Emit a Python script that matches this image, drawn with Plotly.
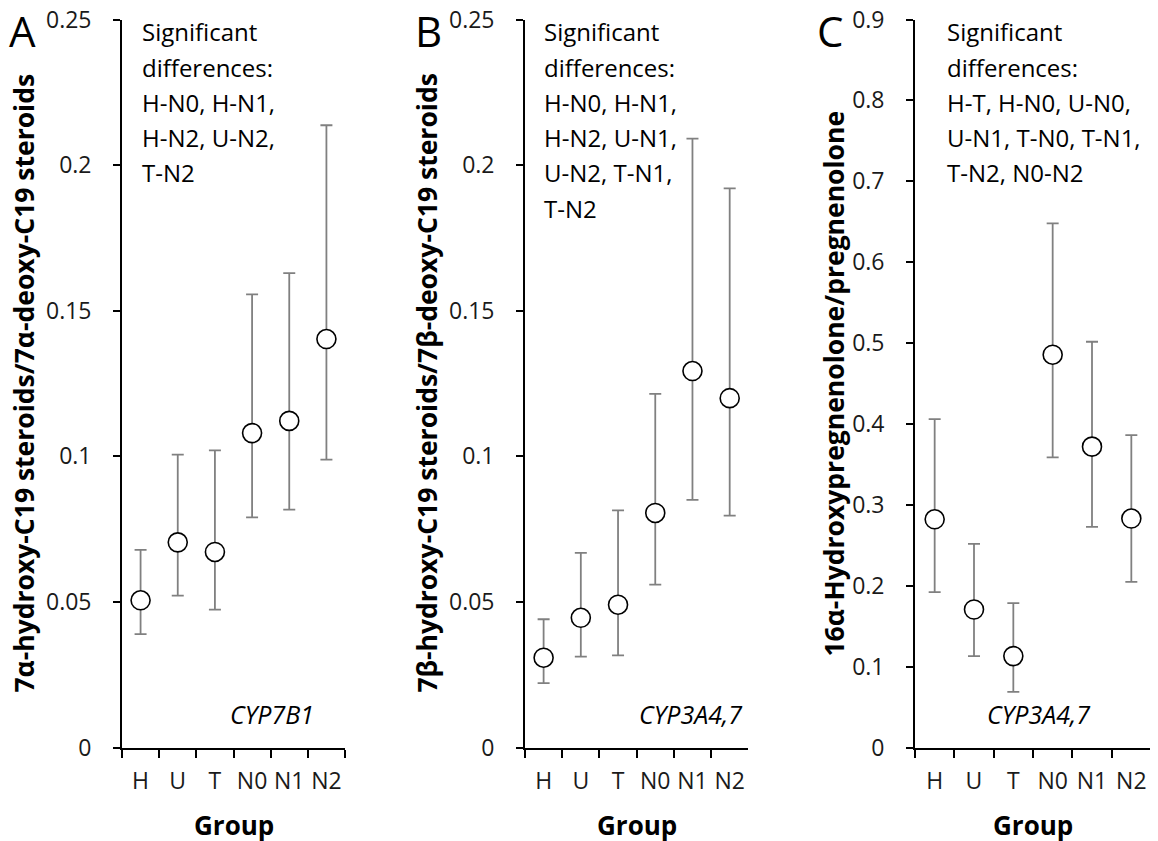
import plotly.graph_objects as go

groups = ["H", "U", "T", "N0", "N1", "N2"]

# Panel A: 7α-hydroxy / 7α-deoxy C19 steroids (CYP7B1)
a_mean = [0.0506, 0.0705, 0.0672, 0.1080, 0.1122, 0.1403]
a_upper = [0.0679, 0.1006, 0.1021, 0.1556, 0.1629, 0.2137]
a_lower = [0.0390, 0.0522, 0.0474, 0.0791, 0.0817, 0.0989]

# Panel B: 7β-hydroxy / 7β-deoxy C19 steroids (CYP3A4,7)
b_mean = [0.0309, 0.0446, 0.0491, 0.0806, 0.1293, 0.1200]
b_upper = [0.0441, 0.0669, 0.0815, 0.1215, 0.2091, 0.1920]
b_lower = [0.0222, 0.0313, 0.0317, 0.0560, 0.0851, 0.0797]

# Panel C: 16α-hydroxypregnenolone / pregnenolone (CYP3A4,7)
c_mean = [0.2823, 0.1708, 0.1132, 0.4857, 0.3721, 0.2832]
c_upper = [0.4062, 0.2519, 0.1786, 0.6481, 0.5017, 0.3864]
c_lower = [0.1922, 0.1132, 0.0691, 0.3589, 0.2728, 0.2049]

ab_ticks = [0, 0.05, 0.1, 0.15, 0.2, 0.25]
ab_ticktext = ["0", "0.05", "0.1", "0.15", "0.2", "0.25"]
c_ticks = [0, 0.1, 0.2, 0.3, 0.4, 0.5, 0.6, 0.7, 0.8, 0.9]
c_ticktext = ["0", "0.1", "0.2", "0.3", "0.4", "0.5", "0.6", "0.7", "0.8", "0.9"]

y_titles = ["7α-hydroxy-C19 steroids/7α-deoxy-C19 steroids",
            "7β-hydroxy-C19 steroids/7β-deoxy-C19 steroids",
            "16α-Hydroxypregnenolone/pregnenolone"]
panel_letters = ["A", "B", "C"]
enzymes = ["CYP7B1", "CYP3A4,7", "CYP3A4,7"]
sig_lines = [
    ["Significant", "differences:", "H-N0, H-N1,", "H-N2, U-N2,", "T-N2"],
    ["Significant", "differences:", "H-N0, H-N1,", "H-N2, U-N1,", "U-N2, T-N1,", "T-N2"],
    ["Significant", "differences:", "H-T, H-N0, U-N0,", "U-N1, T-N0, T-N1,", "T-N2, N0-N2"],
]
x_title = "Group"

W, H = 1158, 841
OFF = 8  # page body margin offset
FONT = "Open Sans"
TXT = 24
def px(x):
    return (x - OFF) / W
def py(y):
    return 1 - (y - OFF) / H

x_domains = [(122, 345), (525, 748.3), (915, 1151)]
y_dom = [py(747.7), py(19.5)]

fig = go.Figure()
series = [(a_mean, a_upper, a_lower), (b_mean, b_upper, b_lower), (c_mean, c_upper, c_lower)]
for i, (m, u, l) in enumerate(series):
    suffix = "" if i == 0 else str(i + 1)
    fig.add_trace(go.Scatter(
        x=groups, y=m, mode="markers",
        xaxis="x" + suffix, yaxis="y" + suffix,
        marker=dict(symbol="circle", size=19, color="white",
                    line=dict(color="black", width=1.6)),
        error_y=dict(type="data", symmetric=False,
                     array=[uu - mm for uu, mm in zip(u, m)],
                     arrayminus=[mm - ll for mm, ll in zip(m, l)],
                     color="#808080", thickness=1.8, width=6),
        showlegend=False, hoverinfo="skip", cliponaxis=False,
    ))

layout = dict(
    template="none",
    width=W, height=H, autosize=False,
    margin=dict(l=0, r=0, t=0, b=0, pad=0, autoexpand=False),
    paper_bgcolor="white", plot_bgcolor="white",
    font=dict(family=FONT, size=TXT, color="black"),
    showlegend=False,
)
annotations = []
for i in range(3):
    suffix = "" if i == 0 else str(i + 1)
    x0, x1 = x_domains[i]
    layout["xaxis" + suffix] = dict(
        domain=[px(x0), px(x1)], anchor="y" + suffix, automargin=False,
        type="category", range=[-0.5, 5.5], tickson="boundaries",
        ticks="outside", ticklen=8, tickwidth=1.5, tickcolor="black",
        showline=True, linecolor="black", linewidth=1.8,
        showgrid=False, zeroline=False, tickangle=0,
        tickfont=dict(family=FONT, size=23, color="#1a1a1a"),
        ticklabelstandoff=12, ticklabeloverflow="allow",
    )
    if i < 2:
        tv, tt, rng = ab_ticks, ab_ticktext, [0, 0.25]
    else:
        tv, tt, rng = c_ticks, c_ticktext, [0, 0.9]
    layout["yaxis" + suffix] = dict(
        domain=y_dom, anchor="x" + suffix, range=rng, automargin=False,
        tickmode="array", tickvals=tv, ticktext=tt,
        ticks="outside", ticklen=7, tickwidth=1.5, tickcolor="black",
        showline=True, linecolor="black", linewidth=1.8,
        showgrid=False, zeroline=False,
        tickfont=dict(family=FONT, size=23, color="#1a1a1a"),
        ticklabelstandoff=17, ticklabeloverflow="allow",
    )

title_x = [24, 427, 834]
letter_x = [23, 428, 830]
sig_x = [139.5, 541.7, 945]
enz_x = [228, 637, 985]
for i in range(3):
    x0, x1 = x_domains[i]
    annotations.append(dict(
        text="<b>" + y_titles[i] + "</b>", textangle=-90,
        xref="paper", yref="paper", x=px(title_x[i]), y=py(383.6),
        xanchor="center", yanchor="middle", showarrow=False,
        font=dict(family=FONT, size=26.5, color="black")))
    annotations.append(dict(
        text=panel_letters[i], xref="paper", yref="paper",
        x=px(letter_x[i]), y=py(30), xanchor="center", yanchor="middle",
        showarrow=False, font=dict(family=FONT, size=42, color="black")))
    for k, line in enumerate(sig_lines[i]):
        annotations.append(dict(
            text=line, xref="paper", yref="paper",
            x=px(sig_x[i]), y=py(32 + 35.2 * k), xanchor="left", yanchor="middle",
            showarrow=False, font=dict(family=FONT, size=TXT, color="black")))
    annotations.append(dict(
        text="<i>" + enzymes[i] + "</i>", xref="paper", yref="paper",
        x=px(enz_x[i]), y=py(714), xanchor="left", yanchor="middle",
        showarrow=False, font=dict(family=FONT, size=25, color="black")))
    annotations.append(dict(
        text="<b>" + x_title + "</b>", xref="paper", yref="paper",
        x=px((x0 + x1) / 2), y=py(825), xanchor="center", yanchor="middle",
        showarrow=False, font=dict(family=FONT, size=26, color="black")))

layout["annotations"] = annotations
fig.update_layout(**layout)
fig.write_html("out.html")
